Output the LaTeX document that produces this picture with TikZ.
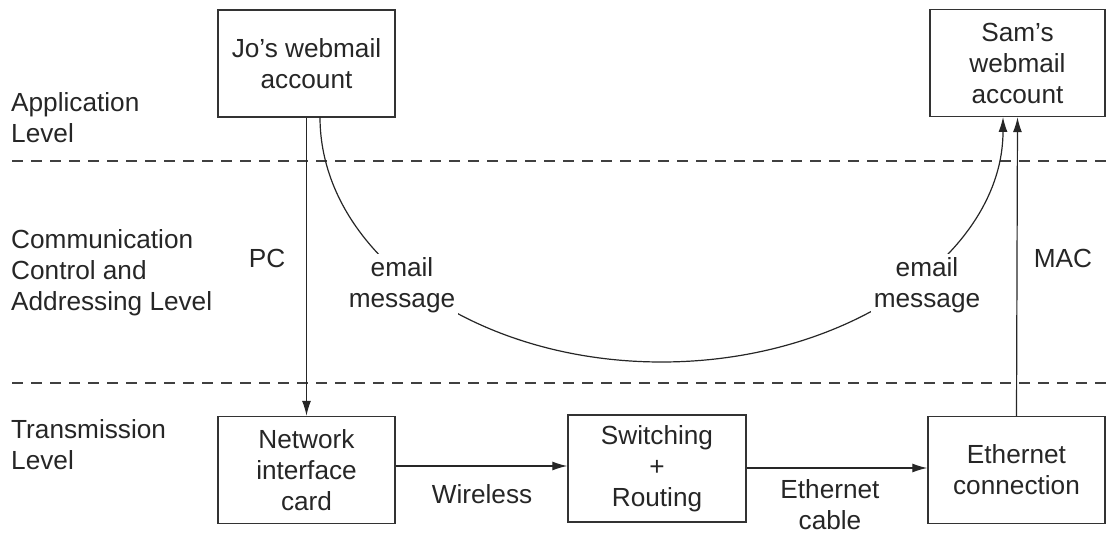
\documentclass[tikz,border=0pt]{standalone}
\usepackage{fontspec}
\setmainfont{Liberation Sans}
\usetikzlibrary{arrows.meta}
\begin{document}
\begin{tikzpicture}[x=1pt,y=-1pt,
  every node/.style={font=\fontsize{26.2}{31}\selectfont, text=black!85, align=center, inner sep=2pt},
  box/.style={draw=black!80, line width=1.4pt, minimum width=#1, minimum height=107pt, inner sep=0pt},
  box/.default=177pt,
  conn/.style={line width=1.2pt, draw=black!85, -{Latex[length=15pt,width=9pt]}},
  sep/.style={line width=1.2pt, draw=black!75, dash pattern=on 11pt off 8pt},
  lbl/.style={fill=white, inner sep=3pt},
  lvl/.style={anchor=west, align=left}]
\useasboundingbox (0,0) rectangle (1111,534);
% level separators
\coordinate (s1l) at (12,161); \coordinate (s1r) at (1106,161);
\coordinate (s2l) at (12,383); \coordinate (s2r) at (1106,383);
\draw[sep] (s1l) -- (s1r);
\draw[sep] (s2l) -- (s2r);
% level labels
\node[lvl] (lapp) at (9,118) {Application\\Level};
\node[lvl] (lcom) at (9,273) {Communication\\Control and\\Addressing Level};
\node[lvl] (ltra) at (9,445) {Transmission\\Level};
% boxes
\node[box] (jo) at (306.5,63.5) {Jo’s webmail\\account};
\node[box=175pt] (sam) at (1017.5,63) {\raisebox{-3pt}{\parbox{170pt}{\centering Sam’s\\webmail\\account}}};
\node[box] (nic) at (306.5,470) {Network\\interface\\card};
\node[box=178pt] (sw) at (657,468.5) {Switching\\+\\Routing};
\node[box] (eth) at (1016.5,470) {Ethernet\\connection};
% vertical connectors
\draw[conn] (jo.south) -- (nic.north);
\draw[conn] (eth.north) -- (sam.south);
\node (pc) at (267,258) {PC};
\node (mac) at (1063,258) {MAC};
% horizontal connectors
\draw[conn] (nic.east |- 0,466) -- (sw.west |- 0,466);
\draw[conn] (sw.east |- 0,468) -- (eth.west |- 0,468);
\node (wl) at (482,494) {Wireless};
\node (ec) at (830,505) {Ethernet\\cable};
% email curve
\coordinate (cs) at (320,117);
\coordinate (ce) at (1003,117);
\draw[conn] (cs) arc[start angle=180, end angle=0, x radius=341.5, y radius=245];
\node[lbl] (em1) at (402,285) {email\\message};
\node[lbl] (em2) at (927,285) {email\\message};
\end{tikzpicture}
\end{document}
